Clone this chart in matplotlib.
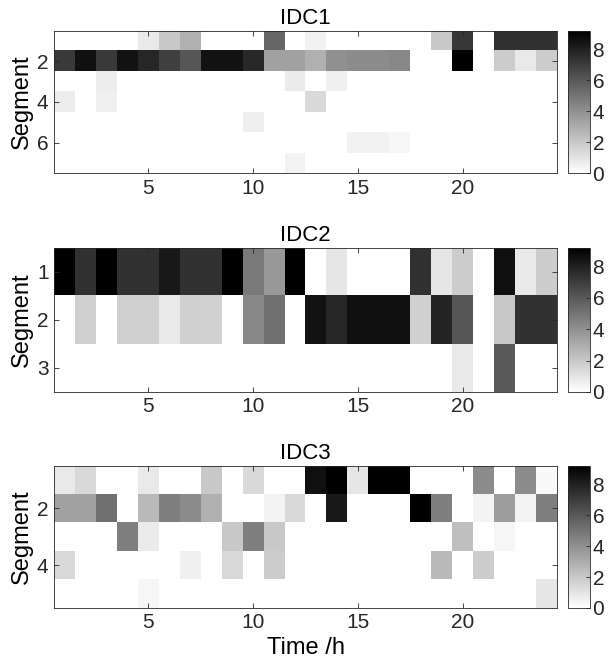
import numpy as np
import matplotlib
matplotlib.use('Agg')
import matplotlib.pyplot as plt

plt.rcParams['font.family'] = ['Liberation Sans', 'DejaVu Sans']

hours = np.arange(1, 25)

# IDC1: 7 segments x 24 hours
idc1 = [
    [0, 0, 0, 0, 0.8, 2.0, 2.85, 0, 0, 0, 5.5, 0, 0.5, 0, 0, 0, 0, 0, 2.0, 7.2, 0, 7.4, 7.4, 7.4],
    [7.1, 8.6, 7.1, 8.5, 7.8, 6.9, 6.1, 8.5, 8.5, 7.7, 3.4, 3.4, 2.85, 4.0, 4.15, 4.15, 4.3, 0, 0, 9.2, 0, 1.85, 0.8, 1.85],
    [0, 0, 0.65, 0, 0, 0, 0, 0, 0, 0, 0, 0.75, 0, 0.55, 0, 0, 0, 0, 0, 0, 0, 0, 0, 0],
    [0.65, 0, 0.55, 0, 0, 0, 0, 0, 0, 0, 0, 0, 1.4, 0, 0, 0, 0, 0, 0, 0, 0, 0, 0, 0],
    [0, 0, 0, 0, 0, 0, 0, 0, 0, 0.6, 0, 0, 0, 0, 0, 0, 0, 0, 0, 0, 0, 0, 0, 0],
    [0, 0, 0, 0, 0, 0, 0, 0, 0, 0, 0, 0, 0, 0, 0.5, 0.5, 0.35, 0, 0, 0, 0, 0, 0, 0],
    [0, 0, 0, 0, 0, 0, 0, 0, 0, 0, 0, 0.45, 0, 0, 0, 0, 0, 0, 0, 0, 0, 0, 0, 0],
]

# IDC2: 3 segments x 24 hours
idc2 = [
    [9.2, 7.4, 9.2, 7.4, 7.4, 8.3, 7.4, 7.4, 9.2, 4.8, 3.7, 9.2, 0, 0.9, 0, 0, 0, 7.4, 0.9, 1.85, 0, 8.6, 0.8, 1.85],
    [0, 1.7, 0, 1.7, 1.7, 0.8, 1.7, 1.65, 0, 4.3, 5.2, 0, 8.5, 7.8, 8.6, 8.6, 8.6, 1.7, 7.9, 6.1, 0, 2.0, 7.4, 7.4],
    [0, 0, 0, 0, 0, 0, 0, 0, 0, 0, 0, 0, 0, 0, 0, 0, 0, 0, 0, 0.8, 0, 6.0, 0, 0],
]

# IDC3: 5 segments x 24 hours
idc3 = [
    [0.8, 1.4, 0, 0, 0.8, 0, 0, 2.0, 0, 1.4, 0, 0, 8.6, 9.2, 0.9, 9.2, 9.2, 0, 0, 0, 4.15, 0, 4.15, 0.25],
    [3.4, 3.4, 5.2, 0, 2.55, 4.6, 4.15, 2.85, 0, 0, 0.45, 1.4, 0, 8.3, 0, 0, 0, 9.2, 4.6, 0, 0.45, 3.55, 0.45, 4.6],
    [0, 0, 0, 4.6, 0.75, 0, 0, 0, 2.0, 4.6, 2.0, 0, 0, 0, 0, 0, 0, 0, 0, 2.3, 0, 0.35, 0, 0],
    [1.4, 0, 0, 0, 0, 0, 0.55, 0, 1.4, 0, 1.85, 0, 0, 0, 0, 0, 0, 0, 2.55, 0, 1.85, 0, 0, 0],
    [0, 0, 0, 0, 0.35, 0, 0, 0, 0, 0, 0, 0, 0, 0, 0, 0, 0, 0, 0, 0, 0, 0, 0, 0.9],
]

titles = ['IDC1', 'IDC2', 'IDC3']
yticks = [[2, 4, 6], [1, 2, 3], [2, 4]]
vmax = 9.2

fig = plt.figure(figsize=(6.08, 6.71), dpi=100)
# [left, bottom, width, height] for each heatmap
boxes = [[0.089, 0.742, 0.827, 0.212],
         [0.089, 0.416, 0.827, 0.215],
         [0.089, 0.094, 0.827, 0.212]]
edge = '#262626'

for data, title, yt, box in zip([idc1, idc2, idc3], titles, yticks, boxes):
    data = np.array(data)
    nseg = data.shape[0]
    ax = fig.add_axes(box)
    im = ax.imshow(data, cmap='gray_r', vmin=0, vmax=vmax, aspect='auto',
                   interpolation='nearest',
                   extent=[hours[0] - 0.5, hours[-1] + 0.5, nseg + 0.5, 0.5])
    ax.set_xticks([5, 10, 15, 20])
    ax.set_yticks(yt)
    ax.tick_params(direction='in', top=True, right=True, length=3.5,
                   width=0.6, labelsize=15, colors=edge, pad=4)
    for s in ax.spines.values():
        s.set_color(edge)
        s.set_linewidth(0.6)
    ax.set_title(title, fontsize=16, pad=5, color='black')
    ax.set_ylabel('Segment', fontsize=17, labelpad=3)

    cax = fig.add_axes([0.934, box[1], 0.036, box[3]])
    cb = fig.colorbar(im, cax=cax, ticks=[0, 2, 4, 6, 8])
    cb.outline.set_edgecolor(edge)
    cb.outline.set_linewidth(0.6)
    cax.tick_params(direction='in', length=3, width=0.6, labelsize=15,
                    colors=edge, pad=2)

ax.set_xlabel('Time /h', fontsize=17, labelpad=3)

fig.savefig('out.png', dpi=100)
